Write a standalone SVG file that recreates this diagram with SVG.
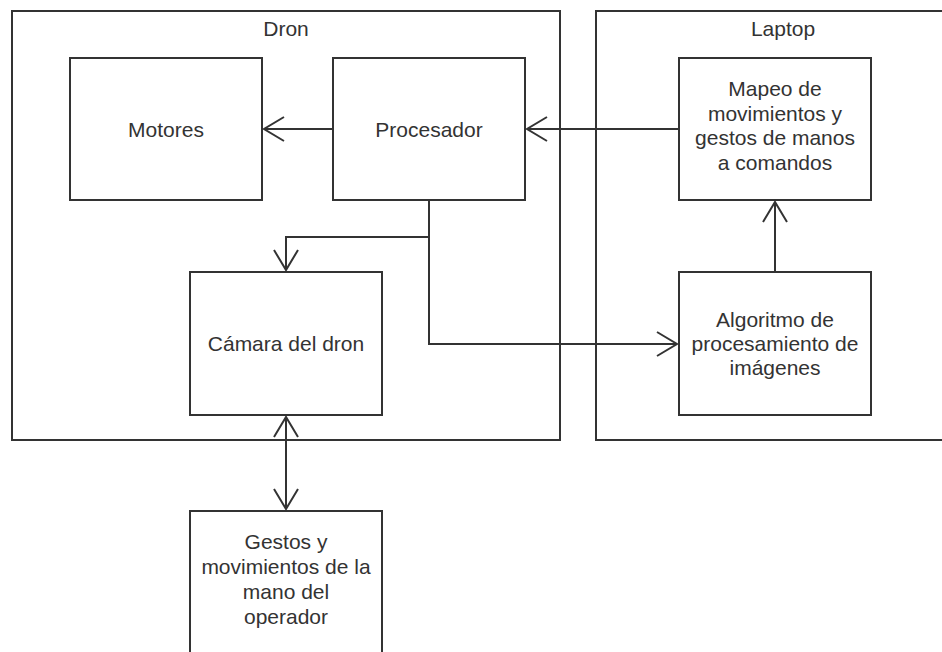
<svg xmlns="http://www.w3.org/2000/svg" width="942" height="652" viewBox="0 0 942 652">
  <style>
    .box { fill: #ffffff; stroke: #333333; stroke-width: 2; }
    .cont { fill: none; stroke: #333333; stroke-width: 2; }
    .lbl { font-family: "Liberation Sans", Arial, sans-serif; font-size: 21px; fill: #333333; text-anchor: middle; }
    .edge { fill: none; stroke: #333333; stroke-width: 2; }
  </style>
  <defs>
    <marker id="arr" markerUnits="userSpaceOnUse" markerWidth="30" markerHeight="30" viewBox="-24 -15 28 30" refX="0" refY="0" orient="auto-start-reverse">
      <path d="M -20 -12 L 0 0 L -20 12" fill="none" stroke="#333333" stroke-width="2"/>
    </marker>
  </defs>
  <rect width="942" height="652" fill="#ffffff"/>

  <g id="dron">
    <rect class="cont" x="12" y="11" width="548" height="429"/>
    <text class="lbl" x="286" y="36">Dron</text>
  </g>
  <g id="laptop">
    <rect class="cont" x="596" y="11" width="380" height="429"/>
    <text class="lbl" x="783" y="36">Laptop</text>
  </g>

  <g id="motores">
    <rect class="box" x="70" y="58" width="192" height="142"/>
    <text class="lbl" x="166" y="136.5">Motores</text>
  </g>
  <g id="procesador">
    <rect class="box" x="333" y="58" width="192" height="142"/>
    <text class="lbl" x="429" y="136.5">Procesador</text>
  </g>
  <g id="mapeo">
    <rect class="box" x="679" y="58" width="192" height="142"/>
    <text class="lbl" x="775" y="96">Mapeo de</text>
    <text class="lbl" x="775" y="120.5">movimientos y</text>
    <text class="lbl" x="775" y="145">gestos de manos</text>
    <text class="lbl" x="775" y="169.5">a comandos</text>
  </g>
  <g id="camara">
    <rect class="box" x="190" y="272" width="192" height="143"/>
    <text class="lbl" x="286" y="351">Cámara del dron</text>
  </g>
  <g id="algoritmo">
    <rect class="box" x="679" y="272" width="192" height="143"/>
    <text class="lbl" x="775" y="327">Algoritmo de</text>
    <text class="lbl" x="775" y="351">procesamiento de</text>
    <text class="lbl" x="775" y="375">imágenes</text>
  </g>
  <g id="gestos">
    <rect class="box" x="190" y="511" width="192" height="170"/>
    <text class="lbl" x="286" y="549">Gestos y</text>
    <text class="lbl" x="286" y="574">movimientos de la</text>
    <text class="lbl" x="286" y="599">mano del</text>
    <text class="lbl" x="286" y="624">operador</text>
  </g>

  <g id="connectors">
    <path class="edge" d="M 333 129 L 264 129" marker-end="url(#arr)"/>
    <path class="edge" d="M 679 129 L 527 129" marker-end="url(#arr)"/>
    <path class="edge" d="M 429 200 L 429 237 L 286 237 L 286 270" marker-end="url(#arr)"/>
    <path class="edge" d="M 429 237 L 429 344 L 677 344" marker-end="url(#arr)"/>
    <path class="edge" d="M 775 272 L 775 202" marker-end="url(#arr)"/>
    <path class="edge" d="M 286 417 L 286 509" marker-start="url(#arr)" marker-end="url(#arr)"/>
  </g>
</svg>
